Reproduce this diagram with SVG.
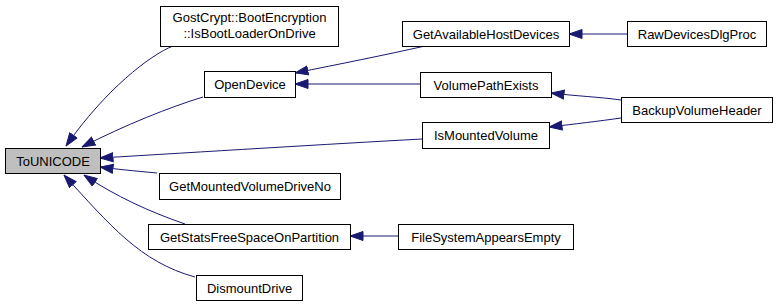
<svg xmlns="http://www.w3.org/2000/svg" width="777" height="306" viewBox="0 0 777 306">
  <style>
    .node rect { fill: #ffffff; stroke: #000000; stroke-width: 1; }
    .node.focus rect { fill: #bfbfbf; }
    .node text { font-family: "Liberation Sans", Arial, sans-serif; font-size: 13px; fill: #000000; text-anchor: middle; }
    .edges path { fill: none; stroke: #191970; stroke-width: 1; marker-end: url(#arrow); }
  </style>
  <defs>
    <marker id="arrow" markerUnits="userSpaceOnUse" markerWidth="14" markerHeight="11" viewBox="0 0 14 11" refX="13.5" refY="5.5" orient="auto">
      <path d="M0.5,1 L13.5,5.5 L0.5,10 Z" fill="#191970" stroke="#191970" stroke-width="1"/>
    </marker>
  </defs>
  <rect width="777" height="306" fill="#ffffff"/>

  <g class="edges">
    <path d="M173,46 C150,55 105,90 66,146"/>
    <path d="M203,97 C170,107 125,125 82,147"/>
    <path d="M422,139 C330,144 200,152 100,158"/>
    <path d="M157,173 C135,171 115,169 100,167"/>
    <path d="M185,224 C150,212 115,196 84,175"/>
    <path d="M195,277 C140,262 110,225 64,175"/>
    <path d="M425,46 C385,55 340,64 295,73"/>
    <path d="M420,84 L295,84"/>
    <path d="M627,34 L569,34"/>
    <path d="M621,100 C600,97 575,96 551,93"/>
    <path d="M621,118 C600,121 575,124 549,127"/>
    <path d="M398,236 L350,236"/>
  </g>

  <g id="node-tounicode" class="node focus">
    <rect x="5.5" y="148.5" width="95" height="25"/>
    <text x="53" y="165.5">ToUNICODE</text>
  </g>
  <g id="node-isbootloaderondrive" class="node">
    <rect x="160.5" y="6.5" width="178" height="40"/>
    <text x="249.5" y="22">GostCrypt::BootEncryption</text>
    <text x="249.5" y="37.5">::IsBootLoaderOnDrive</text>
  </g>
  <g id="node-opendevice" class="node">
    <rect x="204.5" y="71.5" width="91" height="26"/>
    <text x="250" y="89">OpenDevice</text>
  </g>
  <g id="node-getmountedvolumedriveno" class="node">
    <rect x="159.5" y="173.5" width="181" height="26"/>
    <text x="250" y="191">GetMountedVolumeDriveNo</text>
  </g>
  <g id="node-getstatsfreespaceonpartition" class="node">
    <rect x="148.5" y="224.5" width="202" height="25"/>
    <text x="249.5" y="241.5">GetStatsFreeSpaceOnPartition</text>
  </g>
  <g id="node-dismountdrive" class="node">
    <rect x="196.5" y="275.5" width="106" height="25"/>
    <text x="249.5" y="292.5">DismountDrive</text>
  </g>
  <g id="node-getavailablehostdevices" class="node">
    <rect x="402.5" y="21.5" width="167" height="25"/>
    <text x="486" y="38.5">GetAvailableHostDevices</text>
  </g>
  <g id="node-rawdevicesdlgproc" class="node">
    <rect x="627.5" y="21.5" width="139" height="25"/>
    <text x="697" y="38.5">RawDevicesDlgProc</text>
  </g>
  <g id="node-volumepathexists" class="node">
    <rect x="420.5" y="72.5" width="131" height="25"/>
    <text x="486" y="89.5">VolumePathExists</text>
  </g>
  <g id="node-backupvolumeheader" class="node">
    <rect x="621.5" y="97.5" width="151" height="25"/>
    <text x="697" y="114.5">BackupVolumeHeader</text>
  </g>
  <g id="node-ismountedvolume" class="node">
    <rect x="422.5" y="122.5" width="127" height="26"/>
    <text x="486" y="140">IsMountedVolume</text>
  </g>
  <g id="node-filesystemappearsempty" class="node">
    <rect x="398.5" y="224.5" width="175" height="25"/>
    <text x="486" y="241.5">FileSystemAppearsEmpty</text>
  </g>
</svg>
